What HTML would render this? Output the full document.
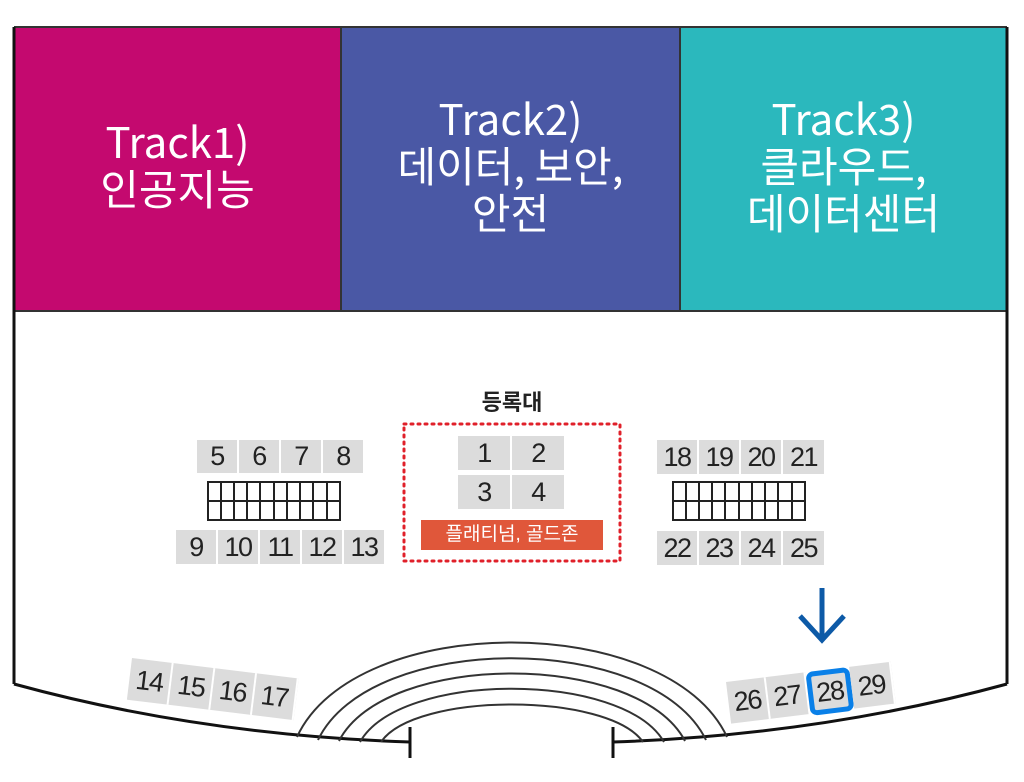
<!DOCTYPE html>
<html><head><meta charset="utf-8"><style>
body{margin:0;background:#fff;width:1024px;height:782px;overflow:hidden;font-family:"Liberation Sans","Noto Sans CJK KR",sans-serif}
.s{position:absolute;background:#dcdcdc;color:#222;font-size:27px;letter-spacing:-1.5px;text-align:center;box-sizing:border-box;border-right:2px solid #fff}
.t{position:absolute;color:#fff;text-align:center;font-size:42px;line-height:47px;font-family:"Noto Sans CJK KR",sans-serif}
</style></head><body>
<svg width="1024" height="782" style="position:absolute;left:0;top:0">
<rect x="14" y="27" width="327" height="284" fill="#C4096F"/>
<rect x="341" y="27" width="339" height="284" fill="#4A58A5"/>
<rect x="680" y="27" width="327" height="284" fill="#2BB8BD"/>
<g stroke="#333" stroke-width="2" fill="none">
<path d="M14 27H1007M341 27V311M680 27V311M14 311H1007"/>
</g>
<g stroke="#111" stroke-width="3" fill="none">
<path d="M14 684Q200 735 410 742"/>
<path d="M1007 684Q820 735 613 742"/>
<path d="M14 27V684M1007 27V684"/>
<path d="M410 727V758M613 727V758"/>
</g>
<g stroke="#333" stroke-width="2" fill="none">
<path d="M297 737C355 611 668 611 727 737"/>
<path d="M318 740C370 631 653 631 706 740"/>
<path d="M339 741C385 651 638 651 685 741"/>
<path d="M360 742C400 671 623 671 664 742"/>
<path d="M381 742C415 692 608 692 643 742"/>
</g>
<rect x="404" y="424" width="216" height="137" fill="none" stroke="#e0202a" stroke-width="3" stroke-dasharray="2,5" stroke-linecap="round"/>
<g stroke="#222" stroke-width="2" fill="none">
<rect x="208" y="482" width="132" height="38"/>
<path d="M208 501H340M221 482V520M234 482V520M247 482V520M260 482V520M274 482V520M287 482V520M300 482V520M313 482V520M327 482V520"/>
<rect x="673" y="482" width="132" height="38"/>
<path d="M673 501H805M686 482V520M699 482V520M712 482V520M725 482V520M739 482V520M752 482V520M765 482V520M778 482V520M792 482V520"/>
</g>
<path d="M822 588V638M800 616L822 640L844 616" stroke="#0D5AA7" stroke-width="5" fill="none"/>
</svg>
<div class="t" style="left:14px;top:117px;width:327px">Track1)<br>인공지능</div>
<div class="t" style="left:341px;top:94px;width:339px">Track2)<br>데이터, 보안,<br>안전</div>
<div class="t" style="left:680px;top:94px;width:327px">Track3)<br>클라우드,<br>데이터센터</div>
<div style="position:absolute;left:462px;top:385px;width:100px;text-align:center;font-size:22px;font-weight:bold;color:#222">등록대</div>
<div class="s" style="left:197px;top:440px;width:42px;height:33px;line-height:33px">5</div>
<div class="s" style="left:239px;top:440px;width:42px;height:33px;line-height:33px">6</div>
<div class="s" style="left:281px;top:440px;width:42px;height:33px;line-height:33px">7</div>
<div class="s" style="left:323px;top:440px;width:42px;height:33px;line-height:33px">8</div>
<div class="s" style="left:176px;top:530px;width:42px;height:34px;line-height:34px">9</div>
<div class="s" style="left:218px;top:530px;width:42px;height:34px;line-height:34px">10</div>
<div class="s" style="left:260px;top:530px;width:42px;height:34px;line-height:34px">11</div>
<div class="s" style="left:302px;top:530px;width:42px;height:34px;line-height:34px">12</div>
<div class="s" style="left:344px;top:530px;width:42px;height:34px;line-height:34px">13</div>
<div class="s" style="left:458px;top:436px;width:54px;height:34px;line-height:34px">1</div>
<div class="s" style="left:512px;top:436px;width:54px;height:34px;line-height:34px">2</div>
<div class="s" style="left:458px;top:475px;width:54px;height:34px;line-height:34px">3</div>
<div class="s" style="left:512px;top:475px;width:54px;height:34px;line-height:34px">4</div>
<div style="position:absolute;left:421px;top:520px;width:182px;height:30px;line-height:30px;background:#E0573A;color:#fff;text-align:center;font-size:19px">플래티넘, 골드존</div>
<div class="s" style="left:657px;top:440px;width:42px;height:34px;line-height:34px">18</div>
<div class="s" style="left:699px;top:440px;width:42px;height:34px;line-height:34px">19</div>
<div class="s" style="left:741px;top:440px;width:42px;height:34px;line-height:34px">20</div>
<div class="s" style="left:783px;top:440px;width:43px;height:34px;line-height:34px">21</div>
<div class="s" style="left:657px;top:531px;width:42px;height:34px;line-height:34px">22</div>
<div class="s" style="left:699px;top:531px;width:42px;height:34px;line-height:34px">23</div>
<div class="s" style="left:741px;top:531px;width:42px;height:34px;line-height:34px">24</div>
<div class="s" style="left:783px;top:531px;width:43px;height:34px;line-height:34px">25</div>
<div style="position:absolute;left:132px;top:658px;transform:rotate(7deg);transform-origin:0 0">
<div class="s" style="left:0;top:0;width:42px;height:42px;line-height:42px">14</div>
<div class="s" style="left:42px;top:0;width:42px;height:42px;line-height:42px">15</div>
<div class="s" style="left:84px;top:0;width:42px;height:42px;line-height:42px">16</div>
<div class="s" style="left:126px;top:0;width:42px;height:42px;line-height:42px">17</div>
</div>
<div style="position:absolute;left:726px;top:682px;transform:rotate(-7deg);transform-origin:0 0">
<div class="s" style="left:0;top:0;width:40px;height:42px;line-height:42px">26</div>
<div class="s" style="left:40px;top:0;width:40px;height:42px;line-height:42px">27</div>
<div class="s" style="left:80px;top:0;width:44px;height:44px;border:5px solid #0A80E8;border-radius:7px;line-height:34px">28</div>
<div class="s" style="left:124px;top:0;width:42px;height:42px;line-height:42px">29</div>
</div>
</body></html>
